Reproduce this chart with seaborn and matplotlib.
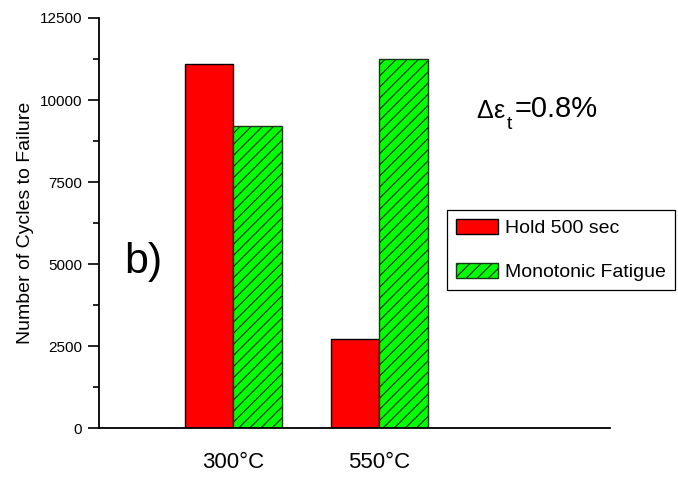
import pandas as pd
import numpy as np
import matplotlib
matplotlib.use("Agg")
import matplotlib.pyplot as plt
import seaborn as sns

temps = ["300°C", "550°C"]
series = ["Hold 500 sec", "Monotonic Fatigue"]
hold_cycles = [11100, 2700]
mono_cycles = [9200, 11250]
y_ticks = [0, 2500, 5000, 7500, 10000, 12500]

df = pd.DataFrame({
    "temp": temps * 2,
    "test": [series[0]] * 2 + [series[1]] * 2,
    "cycles": hold_cycles + mono_cycles,
})

sns.set_style("ticks")
plt.rcParams["font.family"] = ["Liberation Sans", "DejaVu Sans"]
plt.rcParams["hatch.linewidth"] = 0.9
plt.rcParams["text.color"] = "black"
plt.rcParams["axes.labelcolor"] = "black"
plt.rcParams["xtick.color"] = "black"
plt.rcParams["ytick.color"] = "black"
plt.rcParams["axes.edgecolor"] = "black"

fig = plt.figure(figsize=(6.78, 4.87), dpi=100)
ax = fig.add_axes([99 / 678, 1 - 428 / 487, (610 - 99) / 678, (428 - 18) / 487])

sns.barplot(data=df, x="temp", y="cycles", hue="test", hue_order=series,
            palette={series[0]: "#ff0000", series[1]: "#00ff00"},
            width=0.665, saturation=1, ax=ax, legend=False)

#style the bars
for p in ax.containers[0]:
    p.set_edgecolor("black")
    p.set_linewidth(1.0)
for p in ax.containers[1]:
    p.set_edgecolor("#143814")
    p.set_linewidth(1.0)
    p.set_hatch("///")

ax.set_xlim(-0.92, 2.58)
ax.set_ylim(0, 12500)
ax.set_yticks(y_ticks)
ax.set_yticks(np.arange(1250, 12500, 2500), minor=True)
ax.tick_params(axis="y", which="major", direction="out", length=8, width=1.2, labelsize=11, pad=4)
ax.tick_params(axis="y", which="minor", direction="out", length=4, width=1.2)
ax.tick_params(axis="x", length=0, labelsize=16, pad=17)
ax.set_xlabel("")
ax.set_ylabel("Number of Cycles to Failure", fontsize=14, labelpad=4)
ax.spines["top"].set_visible(False)
ax.spines["right"].set_visible(False)
ax.spines["left"].set_linewidth(1.3)
ax.spines["bottom"].set_linewidth(1.3)

leg = ax.legend([ax.containers[0][0], ax.containers[1][0]], series,
                loc="upper left", bbox_to_anchor=(447 / 678, 1 - 210 / 487),
                bbox_transform=fig.transFigure, borderaxespad=0,
                fontsize=14, frameon=True, fancybox=False, framealpha=1,
                handlelength=2.15, handleheight=0.85, handletextpad=0.4,
                labelspacing=1.3, borderpad=0.45)
leg.get_frame().set_edgecolor("black")
leg.get_frame().set_linewidth(0.9)

fig.text(143 / 678, 1 - 262 / 487, "b)", fontsize=31, ha="center", va="center")
fig.text(476 / 678, 1 - 118 / 487, "Δ", fontsize=18, ha="left", va="baseline")
fig.text(493 / 678, 1 - 118 / 487, "ε", fontsize=18, ha="left", va="baseline")
fig.text(507 / 678, 1 - 129 / 487, "t", fontsize=14, ha="left", va="baseline")
fig.text(515 / 678, 1 - 117 / 487, "=0.8%", fontsize=21, ha="left", va="baseline")

fig.savefig("out.png", dpi=100)
